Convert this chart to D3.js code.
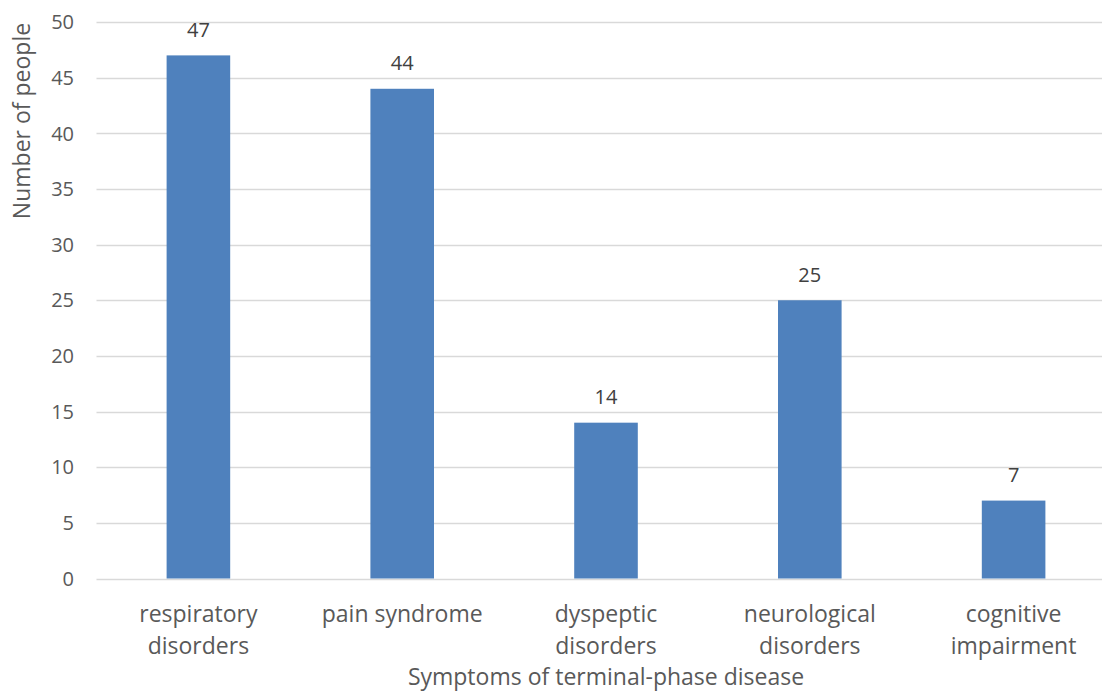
<!DOCTYPE html>
<html>
<head>
<meta charset="utf-8">
<script src="https://cdn.jsdelivr.net/npm/d3@7"></script>
<style>
  html, body { margin: 0; padding: 0; background: #fff; }
  svg { display: block; }
  text { font-family: "Open Sans", "Noto Sans", sans-serif; fill: #595959; }
</style>
</head>
<body>
<svg id="chart" width="1102" height="698"></svg>
<script>
// Symptom categories (each split over two lines under the axis)
const categories = [
  ["respiratory", "disorders"],
  ["pain syndrome"],
  ["dyspeptic", "disorders"],
  ["neurological", "disorders"],
  ["cognitive", "impairment"]
];
const values = [47, 44, 14, 25, 7];
const yTicks = [0, 5, 10, 15, 20, 25, 30, 35, 40, 45, 50];
const yTitle = "Number of people";
const xTitle = "Symptoms of terminal-phase disease";

const svg = d3.select("#chart");
const plotLeft = 96.5, plotRight = 1115.5, plotTop = 22, plotBottom = 578.5;

const x = d3.scaleBand()
  .domain(d3.range(categories.length))
  .range([plotLeft, plotRight])
  .padding(0);
const y = d3.scaleLinear().domain([0, 50]).range([plotBottom, plotTop]);
const barW = x.bandwidth() * 0.312;

// Horizontal gridlines
svg.append("g")
  .selectAll("line")
  .data(yTicks)
  .join("line")
  .attr("x1", plotLeft).attr("x2", plotRight)
  .attr("y1", d => Math.round(y(d)) + 0.5)
  .attr("y2", d => Math.round(y(d)) + 0.5)
  .attr("stroke", "#d9d9d9")
  .attr("stroke-width", 1.3);

// Y tick labels
svg.append("g")
  .selectAll("text")
  .data(yTicks)
  .join("text")
  .attr("x", 74)
  .attr("y", d => y(d))
  .attr("dy", "0.36em")
  .attr("text-anchor", "end")
  .style("font-size", "20px")
  .text(d => d);

// Bars
svg.append("g")
  .selectAll("rect")
  .data(values)
  .join("rect")
  .attr("x", (d, i) => x(i) + x.bandwidth() / 2 - barW / 2)
  .attr("y", d => y(d))
  .attr("width", barW)
  .attr("height", d => y(0) - y(d))
  .attr("fill", "#4f81bd");

// Value labels
svg.append("g")
  .selectAll("text")
  .data(values)
  .join("text")
  .attr("x", (d, i) => x(i) + x.bandwidth() / 2)
  .attr("y", d => y(d) - 18.5)
  .attr("text-anchor", "middle")
  .style("font-size", "20px")
  .style("fill", "#404040")
  .text(d => d);

// Category labels
const cat = svg.append("g")
  .selectAll("text")
  .data(categories)
  .join("text")
  .attr("x", (d, i) => x(i) + x.bandwidth() / 2)
  .attr("y", 622)
  .attr("text-anchor", "middle")
  .style("font-size", "23px");
cat.selectAll("tspan")
  .data(d => d)
  .join("tspan")
  .attr("x", function () { return d3.select(this.parentNode).attr("x"); })
  .attr("dy", (d, i) => i === 0 ? 0 : 32)
  .text(d => d);

// Axis titles
svg.append("text")
  .attr("transform", "translate(30, 121) rotate(-90)")
  .attr("text-anchor", "middle")
  .style("font-size", "23px")
  .text(yTitle);

svg.append("text")
  .attr("x", 606)
  .attr("y", 685)
  .attr("text-anchor", "middle")
  .style("font-size", "23px")
  .text(xTitle);
</script>
</body>
</html>
